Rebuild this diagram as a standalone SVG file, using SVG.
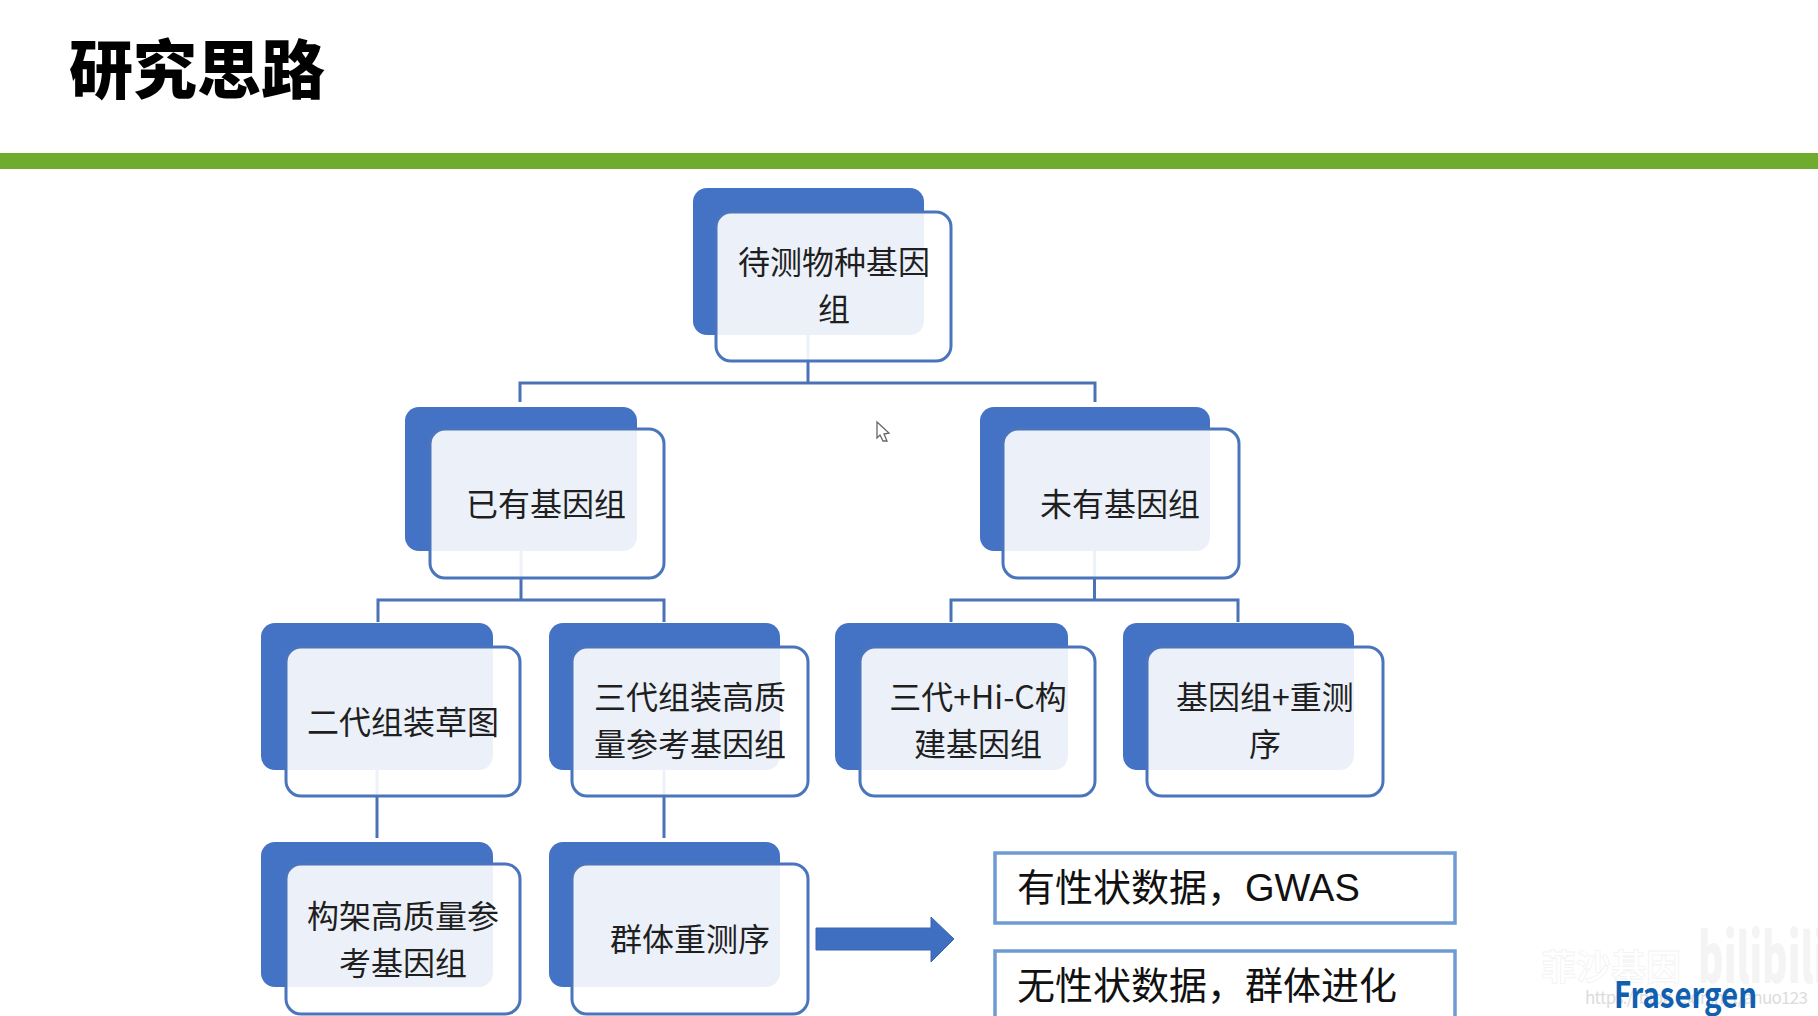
<svg xmlns="http://www.w3.org/2000/svg" width="1818" height="1016" viewBox="0 0 1818 1016">
<style>
text{font-family:"Noto Sans CJK SC","Liberation Sans",sans-serif}
.back{fill:#4472c4}
.front{fill:#fff;fill-opacity:.9;stroke:#4a75bd;stroke-width:3}
.t{font-size:32px;fill:#1f1f1f;text-anchor:middle}
.c{fill:none;stroke:#4a72b4;stroke-width:3}
.b{fill:#fff;stroke:#6e9bd2;stroke-width:3.5}
.s{font-size:38px;fill:#111}
</style>
<rect width="1818" height="1016" fill="#fff"/>
<g id="header">
<text x="69" y="93" font-size="64" font-weight="900" fill="#000">研究思路</text>
<rect x="0" y="153" width="1818" height="16" fill="#6fac2d"/>
</g>
<g id="connectors">
<path class="c" d="M808 335V383M520 402V383H1095V402"/>
<path class="c" d="M521 551V600M378 622V600H664V622"/>
<path class="c" d="M1094.500 551V600M951 622V600H1238V622"/>
<path class="c" d="M377 770V838"/>
<path class="c" d="M664 770V838"/>
</g>
<g id="node-root">
<rect class="back" x="693" y="188" width="231" height="147" rx="14"/>
<rect class="front" x="716" y="212" width="235" height="149" rx="15"/>
<text class="t" x="834" y="274">待测物种基因</text>
<text class="t" x="834" y="321">组</text>
</g>
<g id="node-has-genome">
<rect class="back" x="405" y="407" width="232" height="144" rx="14"/>
<rect class="front" x="430" y="429" width="234" height="149" rx="15"/>
<text class="t" x="546" y="516">已有基因组</text>
</g>
<g id="node-no-genome">
<rect class="back" x="980" y="407" width="230" height="144" rx="14"/>
<rect class="front" x="1003" y="429" width="236" height="149" rx="15"/>
<text class="t" x="1120" y="516">未有基因组</text>
</g>
<g id="node-ngs-draft">
<rect class="back" x="261" y="623" width="232" height="147" rx="14"/>
<rect class="front" x="286" y="647" width="234" height="149" rx="15"/>
<text class="t" x="403" y="734">二代组装草图</text>
</g>
<g id="node-tgs-ref">
<rect class="back" x="549" y="623" width="231" height="147" rx="14"/>
<rect class="front" x="572" y="647" width="236" height="149" rx="15"/>
<text class="t" x="690" y="709">三代组装高质</text>
<text class="t" x="690" y="756">量参考基因组</text>
</g>
<g id="node-hic">
<rect class="back" x="835" y="623" width="233" height="147" rx="14"/>
<rect class="front" x="860" y="647" width="235" height="149" rx="15"/>
<text class="t" x="978" y="709">三代+Hi-C构</text>
<text class="t" x="978" y="756">建基因组</text>
</g>
<g id="node-resequencing">
<rect class="back" x="1123" y="623" width="231" height="147" rx="14"/>
<rect class="front" x="1147" y="647" width="236" height="149" rx="15"/>
<text class="t" x="1265" y="709">基因组+重测</text>
<text class="t" x="1265" y="756">序</text>
</g>
<g id="node-scaffold">
<rect class="back" x="261" y="842" width="232" height="145" rx="14"/>
<rect class="front" x="286" y="864" width="234" height="150" rx="15"/>
<text class="t" x="403" y="928">构架高质量参</text>
<text class="t" x="403" y="975">考基因组</text>
</g>
<g id="node-population">
<rect class="back" x="549" y="842" width="231" height="145" rx="14"/>
<rect class="front" x="572" y="864" width="236" height="150" rx="15"/>
<text class="t" x="690" y="951">群体重测序</text>
</g>
<g id="arrow">
<polygon points="816,928 931,928 931,917 954,939 931,962 931,950 816,950" fill="#3f6fc0" stroke="#3a66ae" stroke-width="1"/>
</g>
<g id="box-gwas">
<rect class="b" x="995" y="853" width="460" height="70"/>
<text class="s" x="1017" y="901">有性状数据，<tspan font-family="Liberation Sans">GWAS</tspan></text>
</g>
<g id="box-evolution">
<rect class="b" x="995" y="951" width="460" height="90"/>
<text class="s" x="1017" y="999">无性状数据，群体进化</text>
</g>
<g id="cursor">
<polygon points="877,422 889,433 884,434 887,441 883,441 880,435 877,438" fill="#fff" stroke="#666" stroke-width="1.300"/>
</g>
<g id="watermark">
<text x="1698" y="983" font-family="Lato" font-size="68" font-weight="900" fill="#f4f4f4" textLength="128" lengthAdjust="spacingAndGlyphs">bilibili</text>
<text x="1541" y="980" font-size="35" font-weight="700" fill="#fff" stroke="#f3f3f3" stroke-width=".8">菲沙基因</text>
<text x="1585" y="1004" font-family="Liberation Sans" font-size="17" fill="#dcdcdc" textLength="223">https://blog.csdn.net/anuo123</text>
<text x="1614" y="1008" font-family="Open Sans" font-size="36" font-weight="700" fill="#105fb0" textLength="143" lengthAdjust="spacingAndGlyphs">Frasergen</text>
</g>
</svg>
